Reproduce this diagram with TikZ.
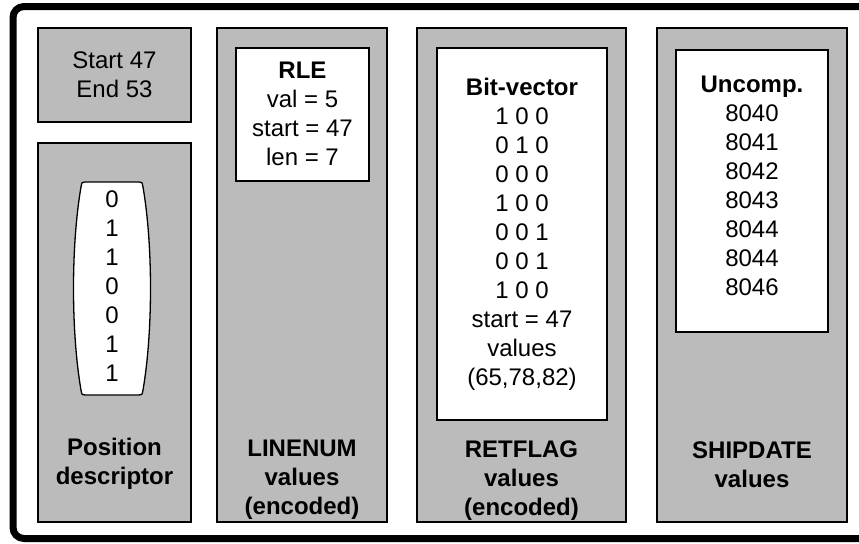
\documentclass[tikz,border=0pt]{standalone}
\usepackage{fontspec}
\setmainfont{Liberation Sans}
\definecolor{colgray}{RGB}{187,187,187}
\begin{document}
\begin{tikzpicture}[x=0.5pt, y=-0.5pt,
    colbox/.style={fill=colgray, draw=black, line width=0.8pt},
    innerbox/.style={fill=white, draw=black, line width=0.8pt},
    txt/.style={align=center, inner sep=0pt, font=\fontsize{12}{14.5}\selectfont},
    lbl/.style={txt, font=\fontsize{12}{14.5}\selectfont\bfseries}]
    \clip (0,0) rectangle (859,543);
    \draw[line width=3.5pt, rounded corners=5.5pt] (13,6.5) rectangle (880,538.5);

    % position descriptor
    \filldraw[colbox] (38,28) rectangle (191,122);
    \filldraw[colbox] (38,143) rectangle (191,522);
    \filldraw[fill=white, draw=black, line width=0.65pt]
        (85,182) -- (139,182) .. controls (142,182) .. (143,187)
        .. controls (153,245) and (153,332) .. (143,390) .. controls (142,395) .. (139,395)
        -- (85,395) .. controls (82,395) .. (81,390)
        .. controls (71,332) and (71,245) .. (81,187) .. controls (82,182) .. (85,182) -- cycle;
    \node[txt] (startend) at (114.5,75) {Start 47\\End 53};
    \node[txt] (bits) at (112,286) {0\\1\\1\\0\\0\\1\\1};
    \node[lbl] (poslbl) at (114.5,464) {Position\\descriptor};

    % linenum
    \filldraw[colbox] (217,28) rectangle (387,522);
    \filldraw[innerbox] (236,48) rectangle (369,181);
    \node[txt] (rle) at (302.5,114) {\textbf{RLE}\\val = 5\\start = 47\\len = 7};
    \node[lbl] (linelbl) at (302,480) {LINENUM\\values\\(encoded)};

    % retflag
    \filldraw[colbox] (417,28) rectangle (626,522);
    \filldraw[innerbox] (437,48) rectangle (607,420);
    \node[txt] (bitvec) at (522,234) {\textbf{Bit-vector}\\1 0 0\\0 1 0\\0 0 0\\1 0 0\\0 0 1\\0 0 1\\1 0 0\\start = 47\\values\\(65,78,82)};
    \node[lbl] (retlbl) at (521.5,481) {RETFLAG\\values\\(encoded)};

    % shipdate
    \filldraw[colbox] (657,28) rectangle (847,522);
    \filldraw[innerbox] (676,50) rectangle (828,332);
    \node[txt] (uncomp) at (752,186) {\textbf{Uncomp.}\\8040\\8041\\8042\\8043\\8044\\8044\\8046};
    \node[lbl] (shiplbl) at (752,465) {SHIPDATE\\values};
\end{tikzpicture}
\end{document}
